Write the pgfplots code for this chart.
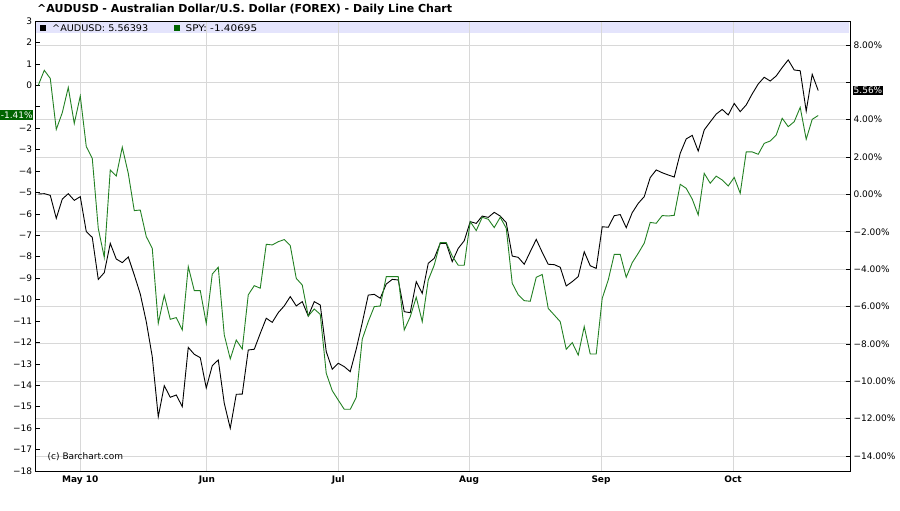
\documentclass[border=0pt]{standalone}
\usepackage{graphicx}
\usepackage{pgfplots}
\pgfplotsset{compat=1.18}
\usepackage{pgfplotstable}
\usepackage{fontspec}
\setmainfont{DejaVu Sans}
\definecolor{gridc}{RGB}{216,216,216}
\definecolor{bandc}{RGB}{228,228,252}
\definecolor{spyc}{RGB}{34,128,34}
\definecolor{dkgreen}{RGB}{0,100,0}

\pgfplotstableread{
i aud
0 0.02
1 0.04
2 -0.05
3 -1.28
4 -0.25
5 0.04
6 -0.32
7 -0.12
8 -1.99
9 -2.30
10 -4.55
11 -4.19
12 -2.62
13 -3.46
14 -3.65
15 -3.35
16 -4.31
17 -5.33
18 -6.81
19 -8.69
20 -11.90
21 -10.24
22 -10.86
23 -10.74
24 -11.36
25 -8.19
26 -8.56
27 -8.74
28 -10.36
29 -9.17
30 -8.86
31 -11.18
32 -12.52
33 -10.70
34 -10.69
35 -8.33
36 -8.29
37 -7.44
38 -6.63
39 -6.85
40 -6.33
41 -5.97
42 -5.47
43 -5.97
44 -5.74
45 -6.51
46 -5.74
47 -5.92
48 -8.42
49 -9.36
50 -9.04
51 -9.22
52 -9.49
53 -8.28
54 -6.87
55 -5.39
56 -5.35
57 -5.56
58 -4.80
59 -4.55
60 -4.58
61 -6.28
62 -6.33
63 -4.67
64 -5.30
65 -3.69
66 -3.42
67 -2.62
68 -2.62
69 -3.60
70 -2.89
71 -2.48
72 -1.46
73 -1.55
74 -1.16
75 -1.23
76 -0.96
77 -1.16
78 -1.51
79 -3.30
80 -3.37
81 -3.74
82 -3.07
83 -2.41
84 -3.10
85 -3.74
86 -3.76
87 -3.90
88 -4.90
89 -4.67
90 -4.40
91 -3.07
92 -3.82
93 -3.96
94 -1.73
95 -1.76
96 -1.14
97 -1.08
98 -1.78
99 -0.98
100 -0.48
101 -0.12
102 0.90
103 1.31
104 1.16
105 1.04
106 0.93
107 2.20
108 2.97
109 3.16
110 2.32
111 3.45
112 3.88
113 4.30
114 4.55
115 4.25
116 4.87
117 4.43
118 4.79
119 5.38
120 5.91
121 6.27
122 6.07
123 6.34
124 6.79
125 7.20
126 6.66
127 6.62
128 4.46
129 6.43
130 5.56
}\audtable

\pgfplotstableread{
i spy
0 0.00
1 0.70
2 0.32
3 -2.06
4 -1.28
5 -0.10
6 -1.78
7 -0.50
8 -2.86
9 -3.41
10 -6.68
11 -8.03
12 -3.95
13 -4.23
14 -2.89
15 -4.11
16 -5.85
17 -5.82
18 -7.06
19 -7.61
20 -11.11
21 -9.80
22 -10.92
23 -10.84
24 -11.42
25 -8.46
26 -9.58
27 -9.58
28 -11.11
29 -8.81
30 -8.49
31 -11.65
32 -12.77
33 -11.89
34 -12.31
35 -9.78
36 -9.35
37 -9.47
38 -7.42
39 -7.45
40 -7.30
41 -7.20
42 -7.48
43 -9.01
44 -9.32
45 -10.77
46 -10.44
47 -10.69
48 -13.44
49 -14.25
50 -14.69
51 -15.12
52 -15.12
53 -14.56
54 -11.85
55 -11.03
56 -10.33
57 -10.30
58 -8.93
59 -8.93
60 -8.93
61 -11.42
62 -10.80
63 -9.89
64 -11.03
65 -9.09
66 -8.39
67 -7.34
68 -7.34
69 -7.97
70 -8.40
71 -8.40
72 -6.36
73 -6.78
74 -6.16
75 -6.25
76 -6.64
77 -6.16
78 -6.67
79 -9.24
80 -9.78
81 -10.05
82 -10.08
83 -8.96
84 -8.83
85 -10.41
86 -10.72
87 -11.03
88 -12.32
89 -12.01
90 -12.59
91 -11.26
92 -12.54
93 -12.54
94 -9.94
95 -9.09
96 -7.89
97 -7.89
98 -8.96
99 -8.28
100 -7.84
101 -7.37
102 -6.40
103 -6.44
104 -6.08
105 -6.10
106 -6.07
107 -4.62
108 -4.81
109 -5.31
110 -6.05
111 -4.11
112 -4.57
113 -4.24
114 -4.42
115 -4.70
116 -4.30
117 -5.04
118 -3.11
119 -3.11
120 -3.22
121 -2.71
122 -2.60
123 -2.32
124 -1.54
125 -1.93
126 -1.70
127 -1.03
128 -2.52
129 -1.59
130 -1.41
}\spytable

\begin{document}
\begin{tikzpicture}
\path[use as bounding box] (0,0) rectangle (900bp,511bp);
\fill[bandc] (36bp,478bp) rectangle (849bp,490bp);
\begin{axis}[
  at={(35.7bp,40bp)}, anchor=south west, scale only axis,
  width=814.3bp, height=450bp,
  xmin=-0.43, xmax=135.3, ymin=-14.807, ymax=9.283,
  xtick={7,28.1,50,71.8,93.8,115.8},
  xticklabels={May 10,Jun,Jul,Aug,Sep,Oct},
  ytick={-14,-12,-10,-8,-6,-4,-2,0,2,4,6,8},
  yticklabels={−14.00\%,−12.00\%,−10.00\%,−8.00\%,−6.00\%,−4.00\%,−2.00\%,0.00\%,2.00\%,4.00\%,,8.00\%},
  ytick pos=right, yticklabel pos=right, xtick pos=bottom,
  tick align=inside, major tick length=4bp,
  xmajorgrids, ymajorgrids, grid style={gridc, line width=0.8bp},
  axis line style={black, line width=0.8bp},
  x tick style={draw=none},
  y tick style={black, line width=0.6bp},
  xticklabel style={font=\fontsize{9bp}{10bp}\selectfont\bfseries, yshift=-1bp},
  yticklabel style={font=\fontsize{9bp}{10bp}\selectfont},
]
\addplot[black, line width=0.9bp] table[x=i,y=aud]{\audtable};
\end{axis}
\begin{axis}[
  at={(35.7bp,40bp)}, anchor=south west, scale only axis,
  width=814.3bp, height=450bp,
  xmin=-0.43, xmax=135.3, ymin=-18, ymax=3,
  hide x axis, axis y line*=left,
  ytick={-18,-17,-16,-15,-14,-13,-12,-11,-10,-9,-8,-7,-6,-5,-4,-3,-2,-1,0,1,2,3},
  yticklabels={−18,−17,−16,−15,−14,−13,−12,−11,−10,−9,−8,−7,−6,−5,−4,−3,−2,,0,1,2,3},
  tick align=inside, major tick length=4bp,
  axis line style={black, line width=0.8bp},
  y tick style={black, line width=0.6bp},
  yticklabel style={font=\fontsize{9bp}{10bp}\selectfont},
]
\addplot[spyc, line width=0.9bp] table[x=i,y=spy]{\spytable};
\end{axis}
\node[anchor=base west, inner sep=0pt, font=\fontsize{11bp}{12bp}\selectfont\bfseries] at (37bp,498bp) {\textasciicircum AUDUSD - Australian Dollar/U.S. Dollar (FOREX) - Daily Line Chart};
\fill[black] (40bp,480bp) rectangle (46bp,486bp);
\node[anchor=base west, inner sep=0pt, font=\fontsize{9bp}{10bp}\selectfont] at (52bp,479.5bp) {\resizebox{96bp}{6.8bp}{\textasciicircum AUDUSD: 5.56393}};
\fill[dkgreen] (173.5bp,480bp) rectangle (179.5bp,486bp);
\node[anchor=base west, inner sep=0pt, font=\fontsize{9bp}{10bp}\selectfont] at (185.5bp,479.5bp) {\resizebox{71.5bp}{6.8bp}{SPY: -1.40695}};
\node[anchor=base west, inner sep=0pt, font=\fontsize{9bp}{10bp}\selectfont] at (47.5bp,51.5bp) {(c) Barchart.com};
\node[anchor=west, fill=black, text=white, inner xsep=1bp, inner ysep=1.5bp, font=\fontsize{9bp}{10bp}\selectfont] at (852.5bp,420.5bp) {5.56\%};
\node[anchor=east, fill=dkgreen, text=white, inner xsep=0.6bp, inner ysep=1.5bp, font=\fontsize{9bp}{10bp}\selectfont] at (33.5bp,396bp) {-1.41\%};
\end{tikzpicture}
\end{document}
